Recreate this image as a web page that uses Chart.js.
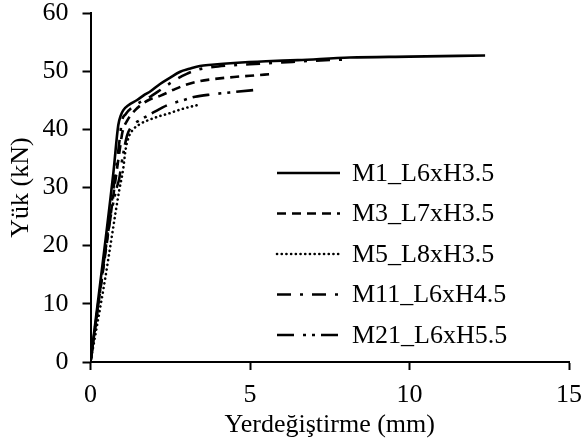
<!DOCTYPE html>
<html>
<head>
<meta charset="utf-8">
<script src="https://cdn.jsdelivr.net/npm/chart.js@4"></script>
<style>
  html, body { margin: 0; padding: 0; background: #fff; }
  #c { display: block; }
</style>
</head>
<body>
<canvas id="c" width="581" height="445"></canvas>
<script>
// Load–displacement curves (displacement in mm, load in kN)
const seriesNames = ['M1_L6xH3.5', 'M3_L7xH3.5', 'M5_L8xH3.5', 'M11_L6xH4.5', 'M21_L6xH5.5'];

const m1Disp = [0, 0.72, 0.87, 0.95, 1.03, 1.2, 1.45, 1.71, 1.87, 2.18, 2.5, 2.81, 3.1, 3.43, 3.8, 4.5, 5.5, 6.5, 8.13, 10, 12.37];
const m1Load = [0, 32.7, 40.7, 42.4, 43.3, 44.2, 45.0, 46.0, 46.5, 47.8, 48.9, 49.9, 50.4, 50.9, 51.1, 51.4, 51.7, 51.9, 52.35, 52.5, 52.7];

const m3Disp = [0, 0.7, 0.93, 1.0, 1.15, 1.4, 1.81, 2.2, 2.6, 2.96, 3.43, 3.8, 4.5, 5.0, 5.68];
const m3Load = [0, 28, 37, 39.5, 41.5, 43.3, 45.0, 45.8, 46.8, 47.6, 48.3, 48.6, 49.0, 49.2, 49.5];

const m5Disp = [0, 0.45, 0.9, 1.02, 1.1, 1.2, 1.34, 1.55, 1.87, 2.18, 2.44, 2.7, 3.0, 3.38];
const m5Load = [0, 14, 29.5, 33, 36.5, 38.7, 40.0, 40.9, 41.7, 42.3, 42.7, 43.2, 43.7, 44.2];

const m11Disp = [0, 0.7, 0.92, 0.98, 1.1, 1.34, 1.6, 1.87, 2.2, 2.6, 3.0, 3.4, 4.0, 5.0, 6.0, 7.0, 8.0];
const m11Load = [0, 29, 38.5, 41.3, 42.6, 43.9, 44.8, 45.6, 46.8, 48.3, 49.5, 50.3, 50.8, 51.2, 51.5, 51.8, 52.0];

const m21Disp = [0, 0.6, 0.8, 0.9, 0.97, 1.05, 1.15, 1.29, 1.55, 1.71, 1.97, 2.43, 2.9, 3.28, 3.8, 4.47, 5.31];
const m21Load = [0, 24, 29.5, 31.5, 34, 36.5, 39, 40.5, 41.6, 42.1, 42.9, 44.2, 45.0, 45.6, 46.0, 46.4, 46.85];

const xTicks = [0, 5, 10, 15];
const yTicks = [0, 10, 20, 30, 40, 50, 60];

const xTitle = 'Yerdeğiştirme (mm)';
const yTitle = 'Yük (kN)';

// line styles per series
const dashes = [[], [9, 6], [0.1, 4.6], [14, 9, 3, 9], [17, 9, 3, 6, 3, 6]];
const caps = ['butt', 'butt', 'round', 'butt', 'butt'];

function toPoints(xs, ys) {
  return xs.map((x, i) => ({ x: x, y: ys[i] }));
}

const allDisp = [m1Disp, m3Disp, m5Disp, m11Disp, m21Disp];
const allLoad = [m1Load, m3Load, m5Load, m11Load, m21Load];

const datasets = seriesNames.map((name, i) => ({
  label: name,
  data: toPoints(allDisp[i], allLoad[i]),
  showLine: true,
  borderColor: '#000',
  backgroundColor: '#000',
  borderWidth: 2.6,
  borderDash: dashes[i],
  borderCapStyle: caps[i],
  pointRadius: 0,
  cubicInterpolationMode: 'monotone',
  fill: false
}));

const FONT = '"Liberation Serif", "Times New Roman", serif';
const FS = 26;

// legend drawn inside the plot area, line sample followed by the series name
const insideLegend = {
  id: 'insideLegend',
  afterDatasetsDraw(chart) {
    const ctx = chart.ctx;
    const x0 = 277, x1 = 340, tx = 352, y0 = 173, step = 40.5;
    ctx.save();
    ctx.font = FS + 'px ' + FONT;
    ctx.textBaseline = 'middle';
    ctx.textAlign = 'left';
    chart.data.datasets.forEach((ds, i) => {
      const y = y0 + i * step;
      ctx.beginPath();
      ctx.setLineDash(ds.borderDash);
      ctx.lineCap = ds.borderCapStyle;
      ctx.lineWidth = ds.borderWidth;
      ctx.strokeStyle = ds.borderColor;
      ctx.moveTo(x0, y);
      ctx.lineTo(x1, y);
      ctx.stroke();
      ctx.setLineDash([]);
      ctx.fillStyle = '#000';
      ctx.fillText(ds.label, tx, y + 1);
    });
    ctx.restore();
  }
};

new Chart(document.getElementById('c'), {
  type: 'scatter',
  data: { datasets: datasets },
  options: {
    responsive: false,
    animation: false,
    layout: { padding: { top: 13, right: 12, left: 0, bottom: 0 } },
    plugins: {
      legend: { display: false },
      tooltip: { enabled: false }
    },
    scales: {
      x: {
        type: 'linear',
        min: xTicks[0],
        max: xTicks[xTicks.length - 1],
        afterBuildTicks: s => { s.ticks = xTicks.map(v => ({ value: v })); },
        afterFit: s => { s.height = 83; s.paddingLeft = 0; s.paddingRight = 0; },
        ticks: { color: '#000', font: { family: FONT, size: FS }, padding: 10, maxRotation: 0 },
        grid: { drawOnChartArea: false, drawTicks: true, tickLength: 8, tickColor: '#000', tickWidth: 2 },
        border: { color: '#000', width: 2 },
        title: { display: true, text: xTitle, color: '#000', font: { family: FONT, size: FS }, padding: { top: 0, bottom: 4 } }
      },
      y: {
        type: 'linear',
        min: yTicks[0],
        max: yTicks[yTicks.length - 1],
        afterBuildTicks: s => { s.ticks = yTicks.map(v => ({ value: v })); },
        afterFit: s => { s.width = 90.5; s.paddingTop = 0; s.paddingBottom = 0; },
        ticks: { color: '#000', font: { family: FONT, size: FS }, padding: 14 },
        grid: { drawOnChartArea: false, drawTicks: true, tickLength: 8, tickColor: '#000', tickWidth: 2 },
        border: { color: '#000', width: 2 },
        title: { display: true, text: yTitle, color: '#000', font: { family: FONT, size: FS }, padding: { top: 6, bottom: 0 } }
      }
    }
  },
  plugins: [insideLegend]
});
</script>
</body>
</html>
